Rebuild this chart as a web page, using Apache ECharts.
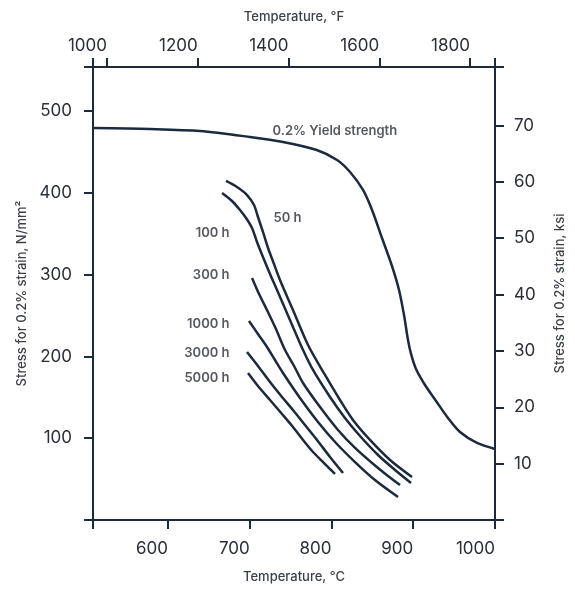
<!DOCTYPE html>
<html><head><meta charset="utf-8">
<script src="https://cdn.jsdelivr.net/npm/echarts@6/dist/echarts.min.js"></script>
<style>html,body{margin:0;padding:0;background:#fff}#c{width:575px;height:590px}</style>
</head><body><div id="c"></div>
<script>
// Axis ticks / labels
const tempCLabels = [600, 700, 800, 900, 1000];
const tempFLabels = [1000, 1200, 1400, 1600, 1800];
const stressLabels = [100, 200, 300, 400, 500];
const ksiLabels = [10, 20, 30, 40, 50, 60, 70];
const tempCRange = [508.3, 1000];
const tempFRange = [969.1, 1855.1];
const stressRange = [0, 554.1];
const ksiRange = [0, 80.37];

// Curves: [temperature °C, stress N/mm²]
const yieldStrength = [[508.3,479.5],[578,478.3],[639.2,475.8],[700.3,468.5],[740.7,462.4],[781.9,452.6],[806.8,440.4],[822.7,425.7],[838.6,403.7],[849.6,379.2],[861.8,344.9],[874.0,310.7],[882.6,281.3],[888.7,250.8],[893.6,220.2],[897.3,203.1],[903.4,184.7],[914.4,165.1],[927.9,145.6],[942.5,124.8],[957.2,107.6],[978,94.2],[1000,86.9]];
const creep50h = [[671.0,414.7],[684.4,407.3],[696.7,397.5],[705.2,385.3],[710.1,370.6],[716.2,352.3],[722.4,332.7],[729.7,313.1],[737.0,293.6],[752.9,256.9],[771.3,214.1],[792.1,177.4],[810.4,146.8],[826.3,122.3],[847.1,97.9],[871.6,73.4],[898.5,52.6]];
const creep100h = [[666.1,400.0],[678.3,390.2],[688.1,379.2],[695.5,369.4],[702.8,357.2],[708.9,340.1],[716.2,321.7],[724.8,300.9],[733.4,281.3],[752.9,236.1],[765.2,207.9],[777.4,183.5],[798.2,150.5],[816.5,124.8],[834.9,102.7],[856.9,79.5],[877.7,61.2],[897.3,45.3]];
const creep300h = [[702.8,296.0],[711.4,276.4],[721.1,256.9],[732.1,233.6],[743.2,207.9],[754.2,188.4],[765.2,167.6],[786.0,138.2],[808.0,110.1],[828.8,88.1],[849.6,69.7],[869.1,53.8],[883.8,42.8]];
const creep1000h = [[699.1,243.4],[710.1,227.5],[721.1,211.6],[730.9,195.7],[740.7,179.8],[761.5,149.2],[783.5,119.9],[805.5,94.2],[828.8,70.9],[853.2,48.9],[881.4,28.1]];
const creep3000h = [[696.7,205.5],[710.1,188.4],[724.8,168.8],[739.5,150.5],[752.9,134.6],[767.6,116.2],[782.3,97.9],[798.2,77.1],[814.1,57.5]];
const creep5000h = [[697.9,179.8],[710.1,163.9],[724.8,146.8],[739.5,129.7],[752.9,113.8],[765.2,97.9],[777.4,83.2],[790.9,69.7],[804.3,56.3]];

const curveNames = ['0.2% Yield strength', '50 h', '100 h', '300 h', '1000 h', '3000 h', '5000 h'];
const curveData = [yieldStrength, creep50h, creep100h, creep300h, creep1000h, creep3000h, creep5000h];
// label anchor points [°C, N/mm²]
const labelAnchors = [[727.3,475.8],[728.5,369.4],[675.9,351.0],[675.9,299.7],[675.9,239.8],[675.9,204.3],[675.9,173.7]];
const labelSide = ['right','right','left','left','left','left','left'];

const INK = '#1c2a3e';
const TXT = '#2a2e36';
const FONT = 'Inter';

function axisCommon() {
  return {
    type: 'value',
    splitLine: { show: false },
    axisLine: { show: true, onZero: false, lineStyle: { color: INK, width: 2 } },
    axisTick: { show: true, inside: false, length: 9, lineStyle: { color: INK, width: 2 } },
    axisLabel: { color: TXT, fontFamily: FONT, fontSize: 17, formatter: v => String(v) },
    nameTextStyle: { color: '#3a3f48', fontFamily: FONT, fontSize: 13, fontWeight: 500 },
    nameLocation: 'middle'
  };
}

const xBottom = axisCommon();
Object.assign(xBottom, { position: 'bottom', min: tempCRange[0], max: tempCRange[1], name: 'Temperature, °C', nameGap: 51 });
xBottom.axisTick.customValues = [tempCRange[0]].concat(tempCLabels);
Object.assign(xBottom.axisLabel, { customValues: tempCLabels, align: 'right', margin: 20 });

const xTop = axisCommon();
Object.assign(xTop, { position: 'top', min: tempFRange[0], max: tempFRange[1], name: 'Temperature, °F', nameGap: 43 });
xTop.axisTick.customValues = [tempFRange[0]].concat(tempFLabels, [tempFRange[1]]);
Object.assign(xTop.axisLabel, { customValues: tempFLabels, align: 'right', margin: 13 });

const yLeft = axisCommon();
Object.assign(yLeft, { position: 'left', min: stressRange[0], max: stressRange[1], name: 'Stress for 0.2% strain, N/mm²', nameGap: 64 });
yLeft.axisTick.customValues = [stressRange[0]].concat(stressLabels, [stressRange[1]]);
Object.assign(yLeft.axisLabel, { customValues: stressLabels, margin: 21 });

const yRight = axisCommon();
Object.assign(yRight, { position: 'right', min: ksiRange[0], max: ksiRange[1], name: 'Stress for 0.2% strain, ksi', nameGap: 59 });
yRight.axisTick.customValues = [ksiRange[0]].concat(ksiLabels, [ksiRange[1]]);
Object.assign(yRight.axisLabel, { customValues: ksiLabels, margin: 19 });

const series = curveData.map((d, i) => ({
  type: 'line', name: curveNames[i], data: d, xAxisIndex: 0, yAxisIndex: 0,
  showSymbol: false, smooth: 0.3, silent: true,
  lineStyle: { color: INK, width: 2.5 }
}));
series.push({
  type: 'scatter', xAxisIndex: 0, yAxisIndex: 0, silent: true,
  symbolSize: 1, itemStyle: { color: 'rgba(0,0,0,0)' },
  data: labelAnchors.map((p, i) => ({
    name: curveNames[i], value: p,
    label: { show: true, position: labelSide[i], distance: 0, formatter: '{b}',
      color: TXT, fontFamily: FONT, fontSize: 13, fontWeight: 600 }
  }))
});

const chart = echarts.init(document.getElementById('c'), null, { renderer: 'canvas' });
chart.setOption({
  animation: false,
  backgroundColor: '#fff',
  grid: { left: 93, right: 80, top: 67, bottom: 70, containLabel: false },
  xAxis: [xBottom, xTop],
  yAxis: [yLeft, yRight],
  series: series
});
</script></body></html>
